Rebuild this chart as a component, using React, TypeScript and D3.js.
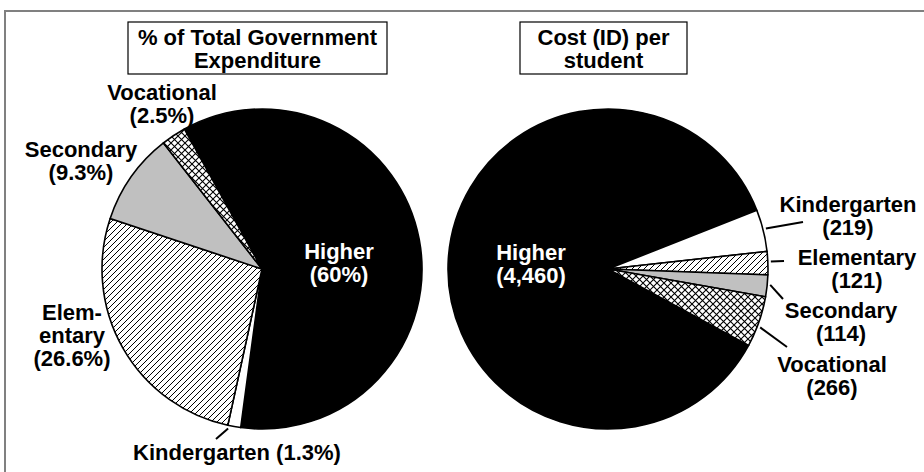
import React from "react";
import * as d3 from "d3";

// ---- data ----
const categories = ["Higher", "Kindergarten", "Elementary", "Secondary", "Vocational"];
const shareValues = [60, 1.3, 26.6, 9.3, 2.5];
const costValues = [4460, 219, 121, 114, 266];
const shareTitle = ["% of Total Government", "Expenditure"];
const costTitle = ["Cost (ID) per", "student"];

// ---- layout / style ----
const W = 924;
const H = 472;
const R = 160;
const FONT = "'Liberation Sans', Arial, Helvetica, sans-serif";
const FS = 22;
const LH = 23;
const deg = Math.PI / 180;

const fills: Record<string, string> = {
  Higher: "#000000",
  Kindergarten: "#ffffff",
  Elementary: "url(#hatch)",
  Secondary: "#c0c0c0",
  Vocational: "url(#cross)",
};

type LabelSpec = { x: number; y: number; lines: (v: string, c: string) => string[]; white?: boolean; leader?: { a: number; x: number; y: number } };

const fmtShare = (v: number) => `(${v}%)`;
const fmtCost = (v: number) => `(${d3.format(",")(v)})`;

const leftPie = {
  cx: 262, cy: 269, start: -29 * deg, values: shareValues, fmt: fmtShare,
  title: shareTitle, box: { x: 128, y: 22, w: 259, h: 52 },
  labels: {
    Higher: { x: 339, y: 259, lines: (v: string, c: string) => [c, v], white: true },
    Kindergarten: { x: 237, y: 460, lines: (v: string, c: string) => [`${c} ${v}`], leader: { a: 192, x: 216, y: 439 } },
    Elementary: { x: 72, y: 320, lines: (v: string) => ["Elem-", "entary", v] },
    Secondary: { x: 81, y: 157, lines: (v: string, c: string) => [c, v] },
    Vocational: { x: 162, y: 100, lines: (v: string, c: string) => [c, v] },
  } as Record<string, LabelSpec>,
};

const rightPie = {
  cx: 608, cy: 269, start: 118.5 * deg, values: costValues, fmt: fmtCost,
  title: costTitle, box: { x: 520, y: 22, w: 167, h: 52 },
  labels: {
    Higher: { x: 531, y: 260, lines: (v: string, c: string) => [c, v], white: true },
    Kindergarten: { x: 848, y: 212, lines: (v: string, c: string) => [c, v], leader: { a: 75.6, x: 803, y: 222 } },
    Elementary: { x: 857, y: 265, lines: (v: string, c: string) => [c, v], leader: { a: 87.4, x: 784, y: 261 } },
    Secondary: { x: 841, y: 318, lines: (v: string, c: string) => [c, v], leader: { a: 95.6, x: 783, y: 299 } },
    Vocational: { x: 832, y: 372, lines: (v: string, c: string) => [c, v], leader: { a: 111, x: 787, y: 347 } },
  } as Record<string, LabelSpec>,
};

function Pie({ cfg }: { cfg: typeof leftPie }) {
  const pie = d3
    .pie<number>()
    .sort(null)
    .value((d) => d)
    .startAngle(cfg.start)
    .endAngle(cfg.start + 2 * Math.PI);
  const arcs = pie(cfg.values);
  const arc = d3.arc<d3.PieArcDatum<number>>().innerRadius(0).outerRadius(R);
  const { box } = cfg;
  return (
    <g>
      <g transform={`translate(${cfg.cx},${cfg.cy})`}>
        {arcs.map((a, i) => (
          <path
            key={categories[i]}
            d={arc(a) || ""}
            fill={fills[categories[i]]}
            stroke="#000"
            strokeWidth={1.6}
            strokeLinejoin="round"
          />
        ))}
      </g>
      <rect x={box.x} y={box.y} width={box.w} height={box.h} fill="#fff" stroke="#000" strokeWidth={1.2} />
      {cfg.title.map((t, j) => (
        <text key={t} x={box.x + box.w / 2} y={45 + j * LH} textAnchor="middle" fontFamily={FONT} fontWeight="bold" fontSize={FS} fill="#000">
          {t}
        </text>
      ))}
      {categories.map((c, i) => {
        const spec = cfg.labels[c];
        const lines = spec.lines(cfg.fmt(cfg.values[i]), c);
        let leader = null;
        if (spec.leader) {
          const a = spec.leader.a * deg;
          const x0 = cfg.cx + (R + 3) * Math.sin(a);
          const y0 = cfg.cy - (R + 3) * Math.cos(a);
          leader = <line x1={x0} y1={y0} x2={spec.leader.x} y2={spec.leader.y} stroke="#000" strokeWidth={2} />;
        }
        return (
          <g key={c}>
            {leader}
            {lines.map((l, j) => (
              <text
                key={j}
                x={spec.x}
                y={spec.y + j * LH}
                textAnchor="middle"
                fontFamily={FONT}
                fontWeight="bold"
                fontSize={FS}
                fill={spec.white ? "#fff" : "#000"}
              >
                {l}
              </text>
            ))}
          </g>
        );
      })}
    </g>
  );
}

export default function App() {
  return (
    <svg width={W} height={H} style={{ position: "absolute", left: 0, top: 0, background: "#fff" }}>
      <defs>
        <pattern id="hatch" width={6} height={6} patternUnits="userSpaceOnUse">
          <rect width={6} height={6} fill="#fff" />
          <path d="M-1,1 L1,-1 M0,6 L6,0 M5,7 L7,5" stroke="#000" strokeWidth={1} />
        </pattern>
        <pattern id="cross" width={7} height={7} patternUnits="userSpaceOnUse">
          <rect width={7} height={7} fill="#fff" />
          <path d="M0,0 L7,7 M0,7 L7,0" stroke="#000" strokeWidth={1.1} />
        </pattern>
      </defs>
      <rect x={0} y={0} width={W} height={H} fill="#fff" />
      <rect x={5} y={11} width={W + 10} height={H + 10} fill="none" stroke="#808080" strokeWidth={2} />
      <Pie cfg={leftPie} />
      <Pie cfg={rightPie as typeof leftPie} />
    </svg>
  );
}
